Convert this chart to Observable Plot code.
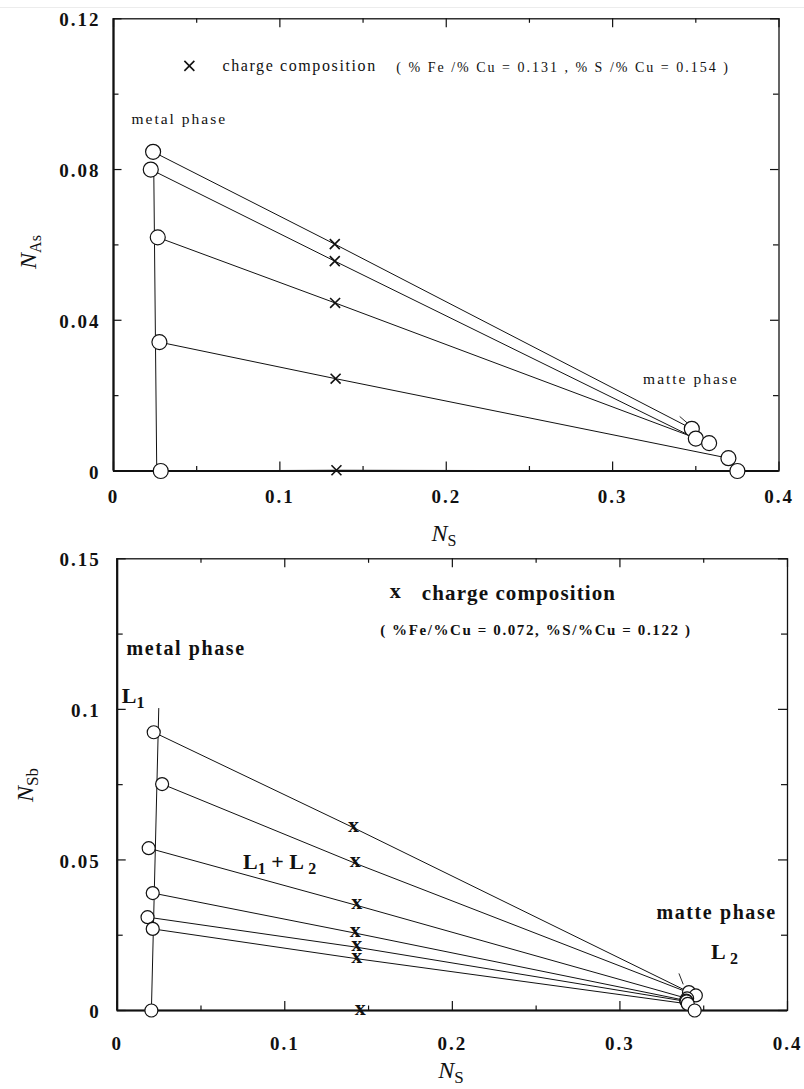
<!DOCTYPE html>
<html>
<head>
<meta charset="utf-8">
<script src="https://cdn.jsdelivr.net/npm/d3@7"></script>
<script src="https://cdn.jsdelivr.net/npm/@observablehq/plot@0.6"></script>
<style>
  body { margin: 0; background: #fff; width: 804px; height: 1089px; overflow: hidden; position: relative; }
  #rule { position: absolute; left: 0; top: 7px; width: 804px; height: 1px; background: #ececec; }
  #top { position: absolute; left: 0; top: 0; }
  #bottom { position: absolute; left: 0; top: 540px; }
  svg { display: block; overflow: visible; }
  g[aria-description="ticklab"] text { letter-spacing: 2px; }
  g[aria-description="note"] text { letter-spacing: 1.6px; }
  g[aria-description="note-wide"] text { letter-spacing: 2px; }
  g[aria-description="note-bold"] text { letter-spacing: 1.6px; }
  g[aria-description="note-big"] text { letter-spacing: 1.1px; }
</style>
</head>
<body>
<div id="rule"></div>
<div id="top"></div>
<div id="bottom"></div>
<script>
// ---------- Upper panel: arsenic tie lines (N_S vs N_As) ----------
const asMetalS   = [0.0238, 0.0224, 0.0266, 0.0276, 0.0284];
const asMetalAs  = [0.0847, 0.0800, 0.0620, 0.0342, 0.0000];
const asChargeS  = [0.1330, 0.1330, 0.1332, 0.1335, 0.1340];
const asChargeAs = [0.0602, 0.0557, 0.0446, 0.0245, 0.0002];
const asMatteS   = [0.3476, 0.3500, 0.3580, 0.3696, 0.3750];
const asMatteAs  = [0.0112, 0.0086, 0.0074, 0.0034, 0.0000];
const asBoundaryS  = [0.0242, 0.0260];
const asBoundaryAs = [0.0800, 0.0000];
const asLeaderS  = [0.3405, 0.3476];
const asLeaderAs = [0.0144, 0.0117];
const asXMajor = [0, 0.1, 0.2, 0.3, 0.4];
const asXMinor = [0.05, 0.15, 0.25, 0.35];
const asXLabels = ["0", "0.1", "0.2", "0.3", "0.4"];
const asYMajor = [0, 0.04, 0.08, 0.12];
const asYMinor = [0.02, 0.06, 0.10];
const asYLabels = ["0", "0.04", "0.08", "0.12"];

// ---------- Lower panel: antimony tie lines (N_S vs N_Sb) ----------
const sbMetalS   = [0.0218, 0.0268, 0.0188, 0.0212, 0.0181, 0.0212, 0.0204];
const sbMetalSb  = [0.0924, 0.0752, 0.0539, 0.0390, 0.0310, 0.0271, 0.0000];
const sbChargeS  = [0.1410, 0.1420, 0.1430, 0.1420, 0.1430, 0.1430, 0.1450];
const sbChargeSb = [0.0607, 0.0489, 0.0349, 0.0257, 0.0210, 0.0172, 0.0000];
const sbMatteS   = [0.3412, 0.3453, 0.3401, 0.3395, 0.3398, 0.3405, 0.3446];
const sbMatteSb  = [0.0061, 0.0050, 0.0040, 0.0033, 0.0030, 0.0022, 0.0000];
const sbBoundaryS  = [0.0248, 0.0204];
const sbBoundarySb = [0.1003, 0.0000];
const sbLeaderS  = [0.3353, 0.3377];
const sbLeaderSb = [0.0122, 0.0088];
const sbXMajor = [0, 0.1, 0.2, 0.3, 0.4];
const sbXMinor = [0.05, 0.15, 0.25, 0.35];
const sbXLabels = ["0", "0.1", "0.2", "0.3", "0.4"];
const sbYMajor = [0, 0.05, 0.10, 0.15];
const sbYMinor = [0.025, 0.075, 0.125];
const sbYLabels = ["0", "0.05", "0.1", "0.15"];

const asNote = "( % Fe /% Cu = 0.131 , % S /% Cu = 0.154 )";
const sbNote = "( %Fe/%Cu = 0.072, %S/%Cu = 0.122 )";

const ink = "#111";
const serif = "Liberation Serif";

const pts = (xs, ys) => xs.map((s, i) => ({s, n: ys[i]}));
const tieRows = (ms, mn, cs, cn, ts, tn) => ms.flatMap((s, i) => [
  {line: i, s, n: mn[i]},
  {line: i, s: cs[i], n: cn[i]},
  {line: i, s: ts[i], n: tn[i]}
]);

// Inward ticks on all four sides of the frame
function frameTicks(xMaj, xMin, yMaj, yMin, xMax, yMax, [xl, xs, yl, ys]) {
  const o = {stroke: ink, strokeWidth: 1.2};
  return [
    Plot.ruleX(xMaj, {...o, y1: 0, y2: 0, insetTop: -xl}),
    Plot.ruleX(xMin, {...o, y1: 0, y2: 0, insetTop: -xs}),
    Plot.ruleX(xMaj, {...o, y1: yMax, y2: yMax, insetBottom: -xl}),
    Plot.ruleX(xMin, {...o, y1: yMax, y2: yMax, insetBottom: -xs}),
    Plot.ruleY(yMaj, {...o, x1: 0, x2: 0, insetRight: -yl}),
    Plot.ruleY(yMin, {...o, x1: 0, x2: 0, insetRight: -ys}),
    Plot.ruleY(yMaj, {...o, x1: xMax, x2: xMax, insetLeft: -yl}),
    Plot.ruleY(yMin, {...o, x1: xMax, x2: xMax, insetLeft: -ys})
  ];
}

function frameLines() {
  return [
    Plot.frame({stroke: ink, strokeWidth: 1.3}),
    Plot.ruleX([0], {stroke: ink, strokeWidth: 2.2}),
    Plot.ruleY([0], {stroke: ink, strokeWidth: 2.2})
  ];
}

function tickLabels(xVals, xLabs, yVals, yLabs, dy, dx) {
  const f = {fontFamily: serif, fontWeight: "bold", fontSize: 19, fill: ink, ariaDescription: "ticklab"};
  return [
    Plot.text(xVals, {...f, x: d => d, y: 0, text: (d, i) => xLabs[i], dy, textAnchor: "middle"}),
    Plot.text(yVals, {...f, x: 0, y: d => d, text: (d, i) => yLabs[i], dx, dy: 1.5, textAnchor: "end"})
  ];
}

// Text with subscript pieces, placed in pixel space of the given svg
function richText(svg, px, py, parts, o) {
  const t = d3.select(svg).append("text")
    .attr("transform", `translate(${px},${py})` + (o.rotate ? ` rotate(${o.rotate})` : ""))
    .attr("y", 0.33 * o.size)
    .attr("text-anchor", o.anchor || "start")
    .attr("font-family", serif)
    .attr("font-size", o.size)
    .attr("font-weight", o.weight || "normal")
    .attr("fill", ink)
    .style("white-space", "pre");
  if (o.spacing) t.attr("letter-spacing", o.spacing);
  let shift = 0;
  for (const p of parts) {
    const target = p.sub ? o.subShift : 0;
    const ts = t.append("tspan").text(p.t).attr("dy", target - shift);
    if (p.sub) ts.attr("font-size", o.subSize);
    if (p.italic) ts.attr("font-style", "italic");
    shift = target;
  }
}

// ---------- Upper panel ----------
const asTies = tieRows(asMetalS, asMetalAs, asChargeS, asChargeAs, asMatteS, asMatteAs);
const asMatte = pts(asMatteS, asMatteAs);
const asMetal = pts(asMetalS, asMetalAs);
const asCharge = pts(asChargeS, asChargeAs);

const topPlot = Plot.plot({
  width: 804, height: 540,
  marginLeft: 113, marginRight: 25.5, marginTop: 18.3, marginBottom: 69.5,
  x: {domain: [0, 0.4], axis: null},
  y: {domain: [0, 0.12], axis: null},
  style: {background: "none", color: ink, overflow: "visible"},
  marks: [
    Plot.line(asTies, {x: "s", y: "n", z: "line", stroke: ink, strokeWidth: 1}),
    Plot.line(pts(asBoundaryS, asBoundaryAs), {x: "s", y: "n", stroke: ink, strokeWidth: 1}),
    Plot.line(pts(asLeaderS, asLeaderAs), {x: "s", y: "n", stroke: ink, strokeWidth: 0.9}),
    ...frameTicks(asXMajor, asXMinor, asYMajor, asYMinor, 0.4, 0.12, [9, 4.5, 8.5, 5.5]),
    ...frameLines(),
    Plot.dot(asCharge, {x: "s", y: "n", symbol: "times", r: 4.6, stroke: ink, strokeWidth: 1.6}),
    Plot.dot(asMetal, {x: "s", y: "n", r: 7.5, fill: "white", stroke: ink, strokeWidth: 1.2}),
    Plot.dot(asMatte, {x: "s", y: "n", r: 7.5, fill: "white", stroke: ink, strokeWidth: 1.2}),
    ...tickLabels(asXMajor, asXLabels, asYMajor, asYLabels, 25.5, -13),
    // legend
    Plot.dot([0], {x: 0.0456, y: 0.1075, symbol: "times", r: 4.6, stroke: ink, strokeWidth: 1.6}),
    Plot.text(["charge composition"], {x: 0.0655, y: 0.1075, text: d => d, textAnchor: "start",
      fontFamily: serif, fontSize: 16, fill: ink, ariaDescription: "note"}),
    Plot.text([asNote], {x: 0.170, y: 0.1072, text: d => d, textAnchor: "start",
      fontFamily: serif, fontSize: 14, fill: ink, ariaDescription: "note-wide"}),
    Plot.text(["metal phase"], {x: 0.0108, y: 0.0934, text: d => d, textAnchor: "start",
      fontFamily: serif, fontSize: 15.5, fill: ink, ariaDescription: "note-wide"}),
    Plot.text(["matte phase"], {x: 0.3183, y: 0.0243, text: d => d, textAnchor: "start",
      fontFamily: serif, fontSize: 15.5, fill: ink, ariaDescription: "note-wide"})
  ]
});
document.getElementById("top").appendChild(topPlot);
richText(topPlot, 444, 533, [{t: "N", italic: true}, {t: "S", sub: true}],
  {size: 24, subSize: 16, subShift: 5, anchor: "middle"});
richText(topPlot, 28, 252, [{t: "N", italic: true}, {t: "As", sub: true}],
  {size: 24, subSize: 16, subShift: 5, anchor: "middle", rotate: -90});

// ---------- Lower panel ----------
const sbTies = tieRows(sbMetalS, sbMetalSb, sbChargeS, sbChargeSb, sbMatteS, sbMatteSb);
const sbMatte = pts(sbMatteS, sbMatteSb);
const sbMetal = pts(sbMetalS, sbMetalSb);
const sbCharge = pts(sbChargeS, sbChargeSb);
const crossText = {text: () => "x", fontFamily: serif, fontWeight: "bold", fontSize: 22, fill: ink, dy: -3};

const botPlot = Plot.plot({
  width: 804, height: 549,
  marginLeft: 116.7, marginRight: 17, marginTop: 18.3, marginBottom: 79,
  x: {domain: [0, 0.4], axis: null},
  y: {domain: [0, 0.15], axis: null},
  style: {background: "none", color: ink, overflow: "visible"},
  marks: [
    Plot.line(sbTies, {x: "s", y: "n", z: "line", stroke: ink, strokeWidth: 1}),
    Plot.line(pts(sbBoundaryS, sbBoundarySb), {x: "s", y: "n", stroke: ink, strokeWidth: 1}),
    Plot.line(pts(sbLeaderS, sbLeaderSb), {x: "s", y: "n", stroke: ink, strokeWidth: 0.9}),
    ...frameTicks(sbXMajor, sbXMinor, sbYMajor, sbYMinor, 0.4, 0.15, [9, 4.5, 9, 6]),
    ...frameLines(),
    Plot.text(sbCharge, {x: "s", y: "n", ...crossText}),
    Plot.dot(sbMetal, {x: "s", y: "n", r: 6.5, fill: "white", stroke: ink, strokeWidth: 1.2}),
    Plot.dot(sbMatte, {x: "s", y: "n", r: 6.5, fill: "white", stroke: ink, strokeWidth: 1.2}),
    ...tickLabels(sbXMajor, sbXLabels, sbYMajor, sbYLabels, 33, -16.5),
    // legend
    Plot.text([0], {x: 0.1659, y: 0.1384, ...crossText}),
    Plot.text(["charge composition"], {x: 0.1818, y: 0.1384, text: d => d, textAnchor: "start",
      fontFamily: serif, fontWeight: "bold", fontSize: 21, fill: ink, ariaDescription: "note-big"}),
    Plot.text([sbNote], {x: 0.1569, y: 0.1262, text: d => d, textAnchor: "start",
      fontFamily: serif, fontWeight: "bold", fontSize: 15, fill: ink, ariaDescription: "note-bold"}),
    Plot.text(["metal phase"], {x: 0.0055, y: 0.1202, text: d => d, textAnchor: "start",
      fontFamily: serif, fontWeight: "bold", fontSize: 20, fill: ink, ariaDescription: "note-bold"}),
    Plot.text(["matte phase"], {x: 0.3218, y: 0.0326, text: d => d, textAnchor: "start",
      fontFamily: serif, fontWeight: "bold", fontSize: 20, fill: ink, ariaDescription: "note-bold"})
  ]
});
document.getElementById("bottom").appendChild(botPlot);
{
  const sx = botPlot.scale("x"), sy = botPlot.scale("y");
  const big = {size: 22, subSize: 16, subShift: 5, weight: "bold"};
  richText(botPlot, sx.apply(0.003), sy.apply(0.1043), [{t: "L"}, {t: "1", sub: true}], big);
  richText(botPlot, sx.apply(0.0754), sy.apply(0.0492),
    [{t: "L"}, {t: "1", sub: true}, {t: " + L "}, {t: "2", sub: true}], big);
  richText(botPlot, sx.apply(0.3546), sy.apply(0.0193), [{t: "L "}, {t: "2", sub: true}], big);
}
richText(botPlot, 451, 530, [{t: "N", italic: true}, {t: "S", sub: true}],
  {size: 24, subSize: 17, subShift: 5, anchor: "middle"});
richText(botPlot, 25, 245, [{t: "N", italic: true}, {t: "Sb", sub: true}],
  {size: 24, subSize: 17, subShift: 5, anchor: "middle", rotate: -90, weight: "normal"});
</script>
</body>
</html>
